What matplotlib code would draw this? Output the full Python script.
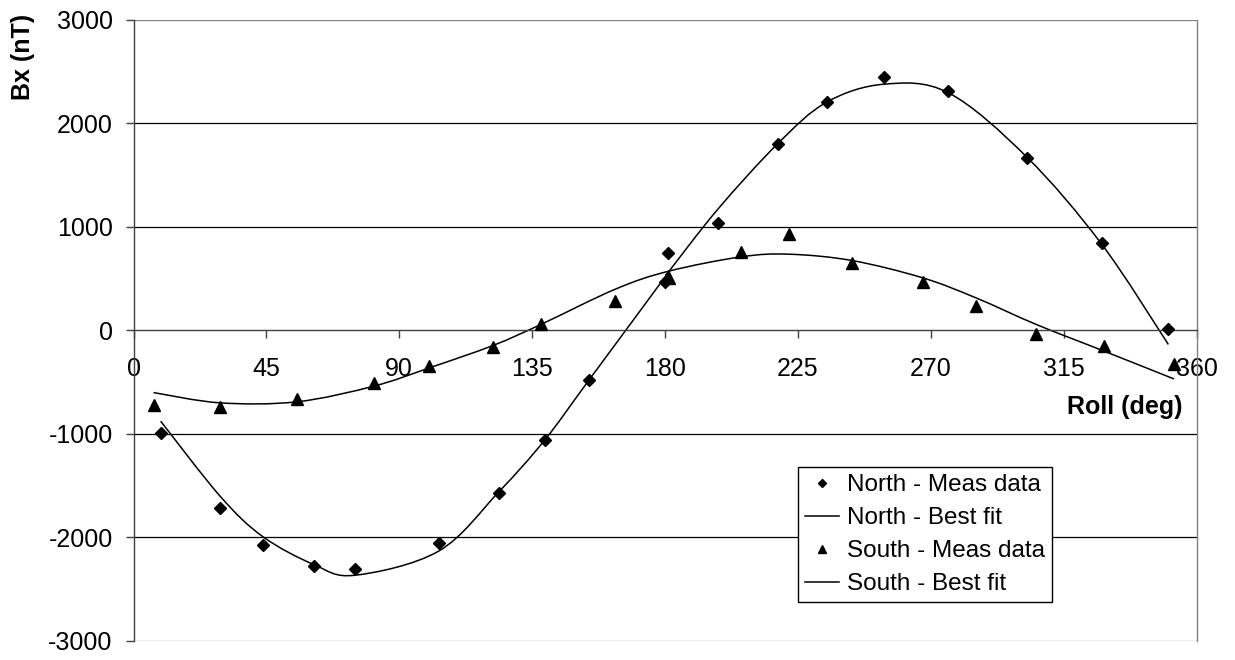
import matplotlib
matplotlib.use("Agg")
import matplotlib.pyplot as plt
from matplotlib.path import Path
from matplotlib.patches import PathPatch
from matplotlib.lines import Line2D
import numpy as np

plt.rcParams['font.family'] = ['Liberation Sans', 'DejaVu Sans']
plt.rcParams['axes.unicode_minus'] = False

# roll angle (deg) and measured Bx (nT)
north_roll = [9.2, 29.3, 43.7, 61.1, 74.9, 103.3, 123.6, 139.2, 154.2, 179.8,
              181.0, 197.8, 218.1, 234.7, 254.2, 275.9, 302.5, 327.9, 350.4]
north_meas = [-990, -1713, -2074, -2277, -2309, -2058, -1568, -1060, -480, 467,
              744, 1034, 1804, 2210, 2451, 2316, 1668, 844, 10]
north_fit = [-876, -1600, -1990, -2262, -2365, -2132, -1562, -1060, -480, 510,
             560, 1170, 1804, 2206, 2380, 2297, 1675, 831, -135]

south_roll = [6.8, 29.3, 55.3, 81.3, 100.2, 121.7, 137.9, 163.2, 181.2, 205.8,
              222.1, 243.3, 267.2, 285.2, 305.7, 328.7, 352.3]
south_meas = [-718, -737, -660, -505, -345, -158, 62, 285, 505, 756,
              935, 652, 465, 235, -36, -152, -322]
south_fit = [-600, -699, -689, -538, -361, -145, 58, 400, 573, 712,
             737, 676, 509, 316, 58, -200, -468]

xticks = [0, 45, 90, 135, 180, 225, 270, 315, 360]
yticks = [-3000, -2000, -1000, 0, 1000, 2000, 3000]


def smooth_path(xs, ys):
    # bezier segments through every point, spreadsheet style smoothing
    p = np.column_stack([xs, ys]).astype(float)
    n = len(p)
    verts = [p[0]]
    codes = [Path.MOVETO]
    for i in range(n - 1):
        prev = p[i - 1] if i > 0 else p[i]
        nxt = p[i + 2] if i + 2 < n else p[i + 1]
        c1 = p[i] + (p[i + 1] - prev) / 6.0
        c2 = p[i + 1] - (nxt - p[i]) / 6.0
        verts += [c1, c2, p[i + 1]]
        codes += [Path.CURVE4] * 3
    return Path(verts, codes)


fig = plt.figure(figsize=(12.35, 6.6), dpi=100)
ax = fig.add_axes([0.1081, 0.0288, 0.8609, 0.9409])
ax.set_xlim(0, 360)
ax.set_ylim(-3000, 3000)

for y in yticks:
    if y == 0:
        continue
    col = '#808080' if abs(y) == 3000 else 'black'
    ax.axhline(y, color=col, lw=0.9, zorder=1)

ax.plot(north_roll, north_meas, ls='none', marker='D', ms=6.5, color='black', zorder=3)
ax.add_patch(PathPatch(smooth_path(north_roll, north_fit), fill=False,
                       edgecolor='black', lw=1.1, zorder=2))
ax.plot(south_roll, south_meas, ls='none', marker='^', ms=8.0, color='black', zorder=3)
ax.add_patch(PathPatch(smooth_path(south_roll, south_fit), fill=False,
                       edgecolor='black', lw=1.1, zorder=2))

ax.spines['bottom'].set_position(('data', 0))
ax.spines['bottom'].set_color('#404040')
ax.spines['left'].set_color('#404040')
ax.spines['top'].set_visible(False)
ax.spines['right'].set_color('#808080')
for s in ax.spines.values():
    s.set_linewidth(1.0)

ax.set_xticks(xticks)
ax.set_yticks(yticks)
ax.set_xticklabels([str(v) for v in xticks])
ax.set_yticklabels([str(v) for v in yticks])
ax.tick_params(axis='both', direction='out', length=6, width=1.0, colors='#404040',
               labelcolor='black', labelsize=18)
ax.tick_params(axis='y', pad=9)
ax.tick_params(axis='x', pad=13)

ax.text(0.987, 0.377, 'Roll (deg)', transform=ax.transAxes, ha='right', va='center',
        fontsize=18, fontweight='bold')
fig.text(23 / 1235, 1 - 14 / 660, 'Bx (nT)', rotation=90, ha='center', va='top',
         fontsize=18, fontweight='bold')

handles = [
    Line2D([], [], ls='none', marker='D', ms=4.5, color='black'),
    Line2D([], [], color='black', lw=1.1),
    Line2D([], [], ls='none', marker='^', ms=6, color='black'),
    Line2D([], [], color='black', lw=1.1),
]
labels = ['North - Meas data', 'North - Best fit', 'South - Meas data', 'South - Best fit']
leg = fig.legend(handles, labels, loc='upper left', bbox_to_anchor=(798 / 1235, 1 - 467 / 660),
                 bbox_transform=fig.transFigure, fontsize=17.5, frameon=True, fancybox=False,
                 edgecolor='black', framealpha=1, borderpad=0.3, borderaxespad=0,
                 handlelength=1.4, handletextpad=0.3, labelspacing=0.45)
leg.get_frame().set_linewidth(1.0)

fig.savefig('out.png', dpi=100)
